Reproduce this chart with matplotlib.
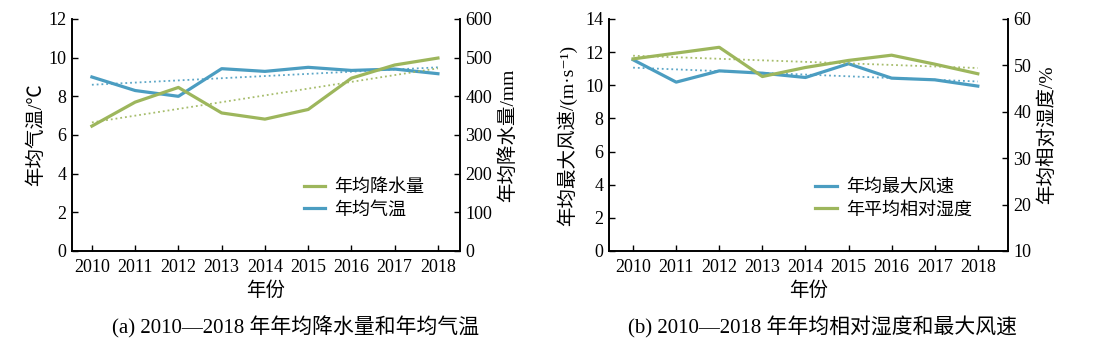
import numpy as np
import matplotlib
matplotlib.use('Agg')
import matplotlib.pyplot as plt

plt.rcParams['font.family'] = ['Liberation Serif', 'Noto Sans CJK SC', 'DejaVu Sans']
plt.rcParams['axes.unicode_minus'] = False

years = [2010, 2011, 2012, 2013, 2014, 2015, 2016, 2017, 2018]
# (a)
temp = [9.0, 8.3, 8.0, 9.43, 9.29, 9.5, 9.34, 9.41, 9.17]
precip = [323, 385, 423, 357, 341, 366, 447, 481, 499]
# (b)
wind = [11.54, 10.19, 10.87, 10.73, 10.47, 11.3, 10.43, 10.33, 9.95]
humid = [51.4, 52.65, 53.9, 47.6, 49.55, 51.07, 52.2, 50.27, 48.2]

green = '#9db65c'
blue = '#4b9dc1'

fig = plt.figure(figsize=(11.01, 3.55), dpi=100)


def trend(ax, y, color):
    x = np.array(years)
    k, b = np.polyfit(x, y, 1)
    ax.plot(x, k * x + b, ls=':', lw=1.3, color=color, alpha=0.9)


def style(ax, ax2, xlim):
    ax.set_xlim(*xlim)
    ax.set_xticks(years)
    ax.spines['top'].set_visible(False)
    ax2.spines['top'].set_visible(False)
    for a in (ax, ax2):
        a.tick_params(direction='in', length=4, width=1, labelsize=13, pad=4)
        for s in a.spines.values():
            s.set_linewidth(1.2)
    ax.tick_params(axis='x', pad=6)


# panel a
ax = fig.add_axes([0.0654, 0.293, 0.3524, 0.6535])
ax2 = ax.twinx()
trend(ax, temp, blue)
trend(ax2, precip, green)
l2, = ax2.plot(years, precip, color=green, lw=2.3)
l1, = ax.plot(years, temp, color=blue, lw=2.3)
ax.set_ylim(0, 12)
ax.set_yticks(range(0, 13, 2))
ax2.set_ylim(0, 600)
ax2.set_yticks(range(0, 601, 100))
style(ax, ax2, (2009.54, 2018.51))
ax.set_xlabel('年份', fontsize=14, labelpad=4)
ax.set_ylabel('年均气温/℃', fontsize=14, labelpad=2)
ax2.set_ylabel('年均降水量/mm', fontsize=14, labelpad=4)
ax2.legend([l2, l1], ['年均降水量', '年均气温'], loc='lower right',
           bbox_to_anchor=(0.95, 0.07), frameon=False, fontsize=13,
           handlelength=1.2, handletextpad=0.5, labelspacing=0.3)

# panel b
bx = fig.add_axes([0.5531, 0.293, 0.3624, 0.6535])
bx2 = bx.twinx()
trend(bx, wind, blue)
trend(bx2, humid, green)
m2, = bx2.plot(years, humid, color=green, lw=2.3)
m1, = bx.plot(years, wind, color=blue, lw=2.3)
bx.set_ylim(0, 14)
bx.set_yticks(range(0, 15, 2))
bx2.set_ylim(10, 60)
bx2.set_yticks(range(10, 61, 10))
style(bx, bx2, (2009.44, 2018.70))
bx.set_xlabel('年份', fontsize=14, labelpad=4)
bx.set_ylabel('年均最大风速/(m·s⁻¹)', fontsize=14, labelpad=6)
bx2.set_ylabel('年均相对湿度/%', fontsize=14, labelpad=4)
bx2.legend([m1, m2], ['年均最大风速', '年平均相对湿度'], loc='lower right',
           bbox_to_anchor=(0.95, 0.07), frameon=False, fontsize=13,
           handlelength=1.2, handletextpad=0.5, labelspacing=0.3)

fig.text(0.268, 0.062, '(a) 2010—2018 年年均降水量和年均气温', ha='center', fontsize=15)
fig.text(0.747, 0.062, '(b) 2010—2018 年年均相对湿度和最大风速', ha='center', fontsize=15)

fig.savefig('out.png', dpi=100)
